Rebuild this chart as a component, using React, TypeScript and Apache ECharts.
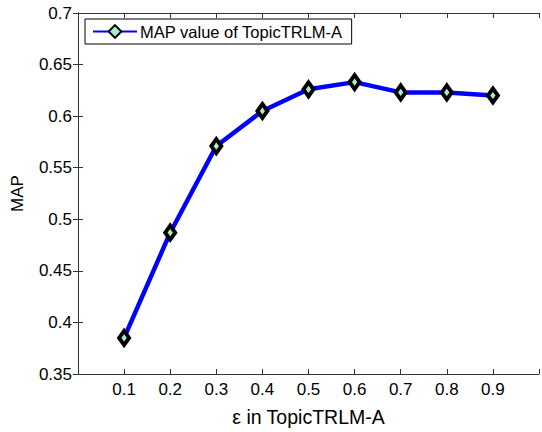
import React, { useEffect, useRef } from "react";
import * as echarts from "echarts";

const xValues = [0.1, 0.2, 0.3, 0.4, 0.5, 0.6, 0.7, 0.8, 0.9];
const mapValues = [0.385, 0.487, 0.571, 0.605, 0.626, 0.633, 0.623, 0.623, 0.620];
const seriesName = "MAP value of TopicTRLM-A";
const xTitle = "ε in TopicTRLM-A";
const yTitle = "MAP";

export default function App() {
  const ref = useRef<HTMLDivElement>(null);
  useEffect(() => {
    if (!ref.current) return;
    const chart = echarts.init(ref.current, null, { renderer: "svg" });
    const font = "'Liberation Sans', Arial, sans-serif";
    const axisLine = { show: true, lineStyle: { color: "#333", width: 1 } };
    const tick = { show: true, inside: true, length: 5, lineStyle: { color: "#333" } };
    chart.setOption({
      animation: false,
      backgroundColor: "#fff",
      grid: { left: 78, right: 2, top: 13, bottom: 56, containLabel: false },
      legend: {
        data: [seriesName],
        left: 85,
        top: 19,
        padding: [4, 9, 4, 7],
        itemWidth: 44,
        itemHeight: 16,
        itemGap: 4,
        borderColor: "#000",
        borderWidth: 1,
        backgroundColor: "#fff",
        textStyle: { fontFamily: font, fontSize: 16.5, color: "#000", padding: [0, 0, 0, -2] },
      },
      xAxis: [
        {
          type: "value",
          min: 0,
          max: 1,
          interval: 0.1,
          name: xTitle,
          nameLocation: "middle",
          nameGap: 33,
          nameTextStyle: { fontFamily: font, fontSize: 19.5, color: "#000" },
          axisLine,
          axisTick: tick,
          splitLine: { show: false },
          axisLabel: {
            fontFamily: font,
            fontSize: 17,
            color: "#000",
            margin: 7,
            formatter: (v: number) => (v < 0.05 || v > 0.95 ? "" : v.toFixed(1)),
          },
        },
        {
          type: "value",
          position: "top",
          min: 0,
          max: 1,
          interval: 0.1,
          axisLine,
          axisTick: tick,
          splitLine: { show: false },
          axisLabel: { show: false },
        },
      ],
      yAxis: [
        {
          type: "value",
          min: 0.35,
          max: 0.7,
          interval: 0.05,
          name: yTitle,
          nameLocation: "middle",
          nameGap: 52,
          nameRotate: 90,
          nameTextStyle: { fontFamily: font, fontSize: 17, color: "#000" },
          axisLine,
          axisTick: tick,
          splitLine: { show: false },
          axisLabel: {
            fontFamily: font,
            fontSize: 17,
            color: "#000",
            margin: 6,
            formatter: (v: number) => String(parseFloat(v.toFixed(2))),
          },
        },
        {
          type: "value",
          position: "right",
          min: 0.35,
          max: 0.7,
          interval: 0.05,
          axisLine,
          axisTick: tick,
          splitLine: { show: false },
          axisLabel: { show: false },
        },
      ],
      series: [
        {
          name: seriesName,
          type: "line",
          data: xValues.map((x, i) => [x, mapValues[i]]),
          lineStyle: { color: "#0000ff", width: 4.5 },
          symbol: "diamond",
          symbolSize: [10, 14],
          itemStyle: { color: "#a8f0c8", borderColor: "#000", borderWidth: 4 },
          color: "#0000ff",
        },
      ],
    });
    return () => chart.dispose();
  }, []);
  return <div ref={ref} style={{ width: 542, height: 432, position: "absolute", left: 0, top: 0 }} />;
}
